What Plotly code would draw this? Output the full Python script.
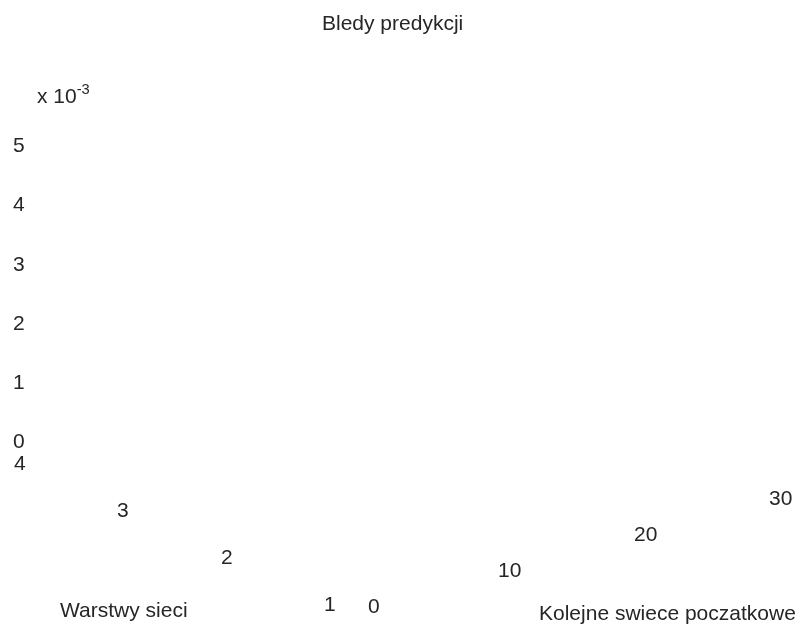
import plotly.graph_objects as go

# Data (prediction errors, in units of 1e-3)
candles = list(range(0, 31))          # Kolejne swiece poczatkowe
layers = [1, 2, 3, 4]                 # Warstwy sieci
err_l1 = [0.9, 1.1, 0.8, 1.3, 1.0, 0.7, 0.9, 1.2, 1.0, 0.8, 0.6, 0.9, 1.1, 0.8, 0.7, 0.9,
          1.0, 0.8, 0.6, 0.7, 0.9, 0.8, 0.6, 0.5, 0.7, 0.6, 0.5, 0.4, 0.3, 0.2, 0.1]
err_l2 = [1.4, 1.6, 1.2, 1.8, 1.5, 1.1, 1.3, 1.7, 1.4, 1.2, 1.0, 1.3, 1.6, 1.2, 1.1, 1.4,
          1.5, 1.2, 1.0, 1.1, 1.3, 1.2, 1.0, 0.9, 1.1, 1.0, 0.8, 0.7, 0.6, 0.5, 0.4]
err_l3 = [2.1, 2.4, 1.9, 2.8, 2.3, 1.8, 2.0, 2.6, 2.2, 1.9, 1.6, 2.0, 2.5, 1.9, 1.7, 2.1,
          2.3, 1.9, 1.6, 1.7, 2.0, 1.8, 1.5, 1.4, 1.7, 1.5, 1.3, 1.1, 1.0, 0.8, 0.7]
err_l4 = [0.2, 3.5, 2.9, 4.8, 3.6, 2.7, 3.1, 4.2, 3.4, 2.9, 2.5, 3.1, 3.9, 2.9, 2.6, 3.3,
          3.6, 2.9, 2.4, 2.6, 3.1, 2.8, 2.3, 2.1, 2.6, 2.3, 2.0, 1.7, 1.5, 1.2, 1.0]
z_ticks = [0, 1, 2, 3, 4, 5]
x_ticks = [0, 10, 20, 30]
y_ticks = [1, 2, 3, 4]

FAM = "Liberation Sans, Arial, sans-serif"
TXT = "#262626"
font = dict(family=FAM, size=21, color=TXT)

fig = go.Figure()
fig.add_trace(go.Surface(
    x=candles, y=layers, z=[err_l1, err_l2, err_l3, err_l4],
    colorscale=[[0, "#ffffff"], [1, "#ffffff"]], showscale=False,
    lighting=dict(ambient=1, diffuse=0, specular=0, roughness=1, fresnel=0),
    hoverinfo="skip",
))

axis_common = dict(showgrid=False, showline=False, zeroline=False, showbackground=False,
                   showspikes=False, ticks="", showticklabels=False, title=dict(text=""))

x0, x1 = x_ticks[0], x_ticks[-1]
y0, y1 = y_ticks[0], y_ticks[-1]
z0, z1 = z_ticks[0], z_ticks[-1]

scene_ann = []
for v in x_ticks:
    scene_ann.append(dict(x=v, y=y0, z=z0, text=str(v), showarrow=False, font=font,
                          xanchor="center", yanchor="middle", xshift=23, yshift=-20))
for v in y_ticks:
    scene_ann.append(dict(x=x0, y=v, z=z0, text=str(v), showarrow=False, font=font,
                          xanchor="center", yanchor="middle", xshift=-20.5, yshift=-18.5))
for v in z_ticks:
    scene_ann.append(dict(x=x0, y=y1, z=v, text=str(v), showarrow=False, font=font,
                          xanchor="center", yanchor="middle", xshift=-21.5, yshift=3.5))

S = 1.636
fig.update_layout(
    width=798, height=626,
    margin=dict(l=0, r=0, t=0, b=0),
    paper_bgcolor="white",
    scene=dict(
        domain=dict(x=[0, 1], y=[0, 1]),
        xaxis=dict(axis_common, range=[x0, x1]),
        yaxis=dict(axis_common, range=[y0, y1]),
        zaxis=dict(axis_common, range=[z0, z1]),
        aspectmode="manual", aspectratio=dict(x=S, y=S, z=0.616 * S),
        camera=dict(eye=dict(x=-1.0018, y=-1.3141, z=0.6104), up=dict(x=0, y=0, z=1),
                    center=dict(x=0, y=0, z=0), projection=dict(type="orthographic")),
        annotations=scene_ann,
    ),
    annotations=[
        dict(text="Bledy predykcji", xref="paper", yref="paper", x=392 / 798, y=1 - 22 / 626,
             xanchor="center", yanchor="middle", showarrow=False, font=font),
        dict(text="x 10<sup>-3</sup>", xref="paper", yref="paper", x=35 / 798, y=1 - 94 / 626,
             xanchor="left", yanchor="middle", showarrow=False, font=font),
        dict(text="Warstwy sieci", xref="paper", yref="paper", x=58 / 798, y=1 - 609 / 626,
             xanchor="left", yanchor="middle", showarrow=False, font=font),
        dict(text="Kolejne swiece poczatkowe", xref="paper", yref="paper", x=537 / 798,
             y=1 - 612 / 626, xanchor="left", yanchor="middle", showarrow=False, font=font),
    ],
)

fig.write_html("out.html", config={"displayModeBar": False},
               post_script="document.body.style.margin='0';document.body.style.overflow='hidden';")
